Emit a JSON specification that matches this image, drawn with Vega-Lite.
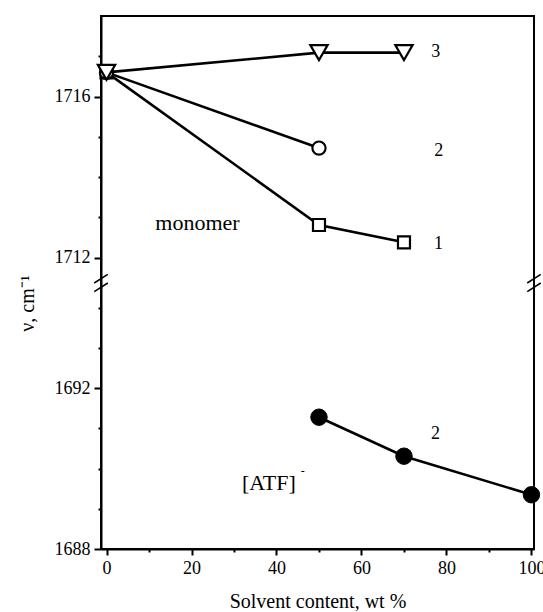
{
  "$schema": "https://vega.github.io/schema/vega-lite/v6.json",
  "width": 433,
  "height": 533,
  "autosize": "none",
  "padding": {"left": 101, "top": 16, "right": 9, "bottom": 63},
  "background": "white",
  "config": {
    "view": {"stroke": "#000", "strokeWidth": 2},
    "font": "'Liberation Serif', 'Times New Roman', serif",
    "axis": {"labelFont": "'Liberation Serif', 'Times New Roman', serif", "titleFont": "'Liberation Serif', 'Times New Roman', serif"},
    "text": {"font": "'Liberation Serif', 'Times New Roman', serif", "color": "#000"}
  },
  "datasets": {
    "series": [
      {"x": 0, "y": 1716.6, "s": "1"},
      {"x": 50, "y": 1712.81, "s": "1"},
      {"x": 70, "y": 1712.38, "s": "1"},
      {"x": 0, "y": 1716.6, "s": "2"},
      {"x": 50, "y": 1714.72, "s": "2"},
      {"x": 0, "y": 1716.6, "s": "3"},
      {"x": 50, "y": 1717.09, "s": "3"},
      {"x": 70, "y": 1717.09, "s": "3"},
      {"x": 50, "y": 1691.28, "s": "A"},
      {"x": 70, "y": 1690.31, "s": "A"},
      {"x": 100, "y": 1689.35, "s": "A"}
    ],
    "numlabels": [
      {"x": 77.5, "y": 1717.1, "t": "3"},
      {"x": 78.2, "y": 1714.65, "t": "2"},
      {"x": 78.1, "y": 1712.35, "t": "1"},
      {"x": 77.4, "y": 1690.85, "t": "2"}
    ],
    "names": [
      {"x": 21.4, "y": 1712.69, "t": "monomer"},
      {"x": 38.2, "y": 1689.46, "t": "[ATF]"}
    ],
    "sup": [
      {"x": 46.2, "y": 1689.94, "t": "-"}
    ],
    "breaks": [
      {"x": -1.3, "y": 1694.62},
      {"x": 100.6, "y": 1694.62}
    ]
  },
  "encoding": {
    "x": {
      "field": "x",
      "type": "quantitative",
      "scale": {"domain": [-1.3, 100.6], "nice": false, "zero": false},
      "axis": {
        "values": [0, 10, 20, 30, 40, 50, 60, 70, 80, 90, 100],
        "format": "d",
        "labelExpr": "datum.value % 20 === 0 ? datum.label : ''",
        "labelOverlap": false,
        "labelFlush": false,
        "labelFontSize": 18,
        "labelColor": "#000",
        "labelPadding": 4,
        "tickSize": {"condition": {"test": "datum.value % 20 === 0", "value": 6}, "value": 3},
        "tickColor": "#000",
        "tickWidth": 2,
        "domainColor": "#000",
        "domainWidth": 2,
        "grid": false,
        "title": "Solvent content, wt %",
        "titleFontSize": 20,
        "titleFontWeight": "normal",
        "titleColor": "#000",
        "titleBaseline": "alphabetic",
        "titleY": 58
      }
    },
    "y": {
      "field": "y",
      "type": "quantitative",
      "scale": {"domain": [1688, 1694.62, 1711.37, 1718], "range": [533, 267, 267, 0], "nice": false, "zero": false},
      "axis": {
        "values": [1688, 1689, 1690, 1691, 1692, 1693, 1694, 1712, 1713, 1714, 1715, 1716, 1717],
        "format": "d",
        "labelExpr": "indexof([1688, 1692, 1712, 1716], datum.value) >= 0 ? datum.label : ''",
        "labelOverlap": false,
        "labelFlush": false,
        "labelFontSize": 18,
        "labelColor": "#000",
        "labelPadding": 4,
        "tickSize": {"condition": {"test": "indexof([1688, 1692, 1712, 1716], datum.value) >= 0", "value": 7}, "value": 3},
        "tickColor": "#000",
        "tickWidth": 2,
        "domainColor": "#000",
        "domainWidth": 2,
        "grid": false,
        "title": "ν, cm⁻¹",
        "titleFontSize": 20,
        "titleFontWeight": "normal",
        "titleColor": "#000",
        "titleAngle": -90,
        "titleAlign": "center",
        "titleBaseline": "alphabetic",
        "titleX": -68,
        "titleY": 287
      }
    }
  },
  "layer": [
    {
      "data": {"name": "series"},
      "mark": {"type": "line", "color": "#000", "strokeWidth": 2.6},
      "encoding": {"detail": {"field": "s"}}
    },
    {
      "data": {"name": "series"},
      "transform": [{"filter": "datum.s === '1'"}],
      "mark": {"type": "point", "shape": "square", "size": 144, "fill": "white", "stroke": "#000", "strokeWidth": 2.2, "opacity": 1, "filled": true}
    },
    {
      "data": {"name": "series"},
      "transform": [{"filter": "datum.s === '2'"}],
      "mark": {"type": "point", "shape": "circle", "size": 175, "fill": "white", "stroke": "#000", "strokeWidth": 2.2, "opacity": 1, "filled": true}
    },
    {
      "data": {"name": "series"},
      "transform": [{"filter": "datum.s === '3'"}],
      "mark": {"type": "point", "shape": "triangle-down", "size": 300, "fill": "white", "stroke": "#000", "strokeWidth": 2.2, "opacity": 1, "filled": true}
    },
    {
      "data": {"name": "series"},
      "transform": [{"filter": "datum.s === 'A'"}],
      "mark": {"type": "point", "shape": "circle", "size": 270, "fill": "#000", "stroke": "#000", "strokeWidth": 1, "opacity": 1, "filled": true}
    },
    {
      "data": {"name": "numlabels"},
      "mark": {"type": "text", "fontSize": 18, "align": "center", "baseline": "middle", "color": "#000"},
      "encoding": {"text": {"field": "t"}}
    },
    {
      "data": {"name": "names"},
      "mark": {"type": "text", "fontSize": 22, "align": "center", "baseline": "alphabetic", "color": "#000"},
      "encoding": {"text": {"field": "t"}}
    },
    {
      "data": {"name": "sup"},
      "mark": {"type": "text", "fontSize": 12, "align": "center", "baseline": "middle", "color": "#000"},
      "encoding": {"text": {"field": "t"}}
    },
    {
      "data": {"name": "breaks"},
      "mark": {"type": "point", "shape": "M-0.9,0L0.9,-1.15M-0.9,1.15L0.9,0", "size": 225, "filled": false, "stroke": "#000", "strokeWidth": 1.5, "opacity": 1, "clip": false}
    }
  ]
}
